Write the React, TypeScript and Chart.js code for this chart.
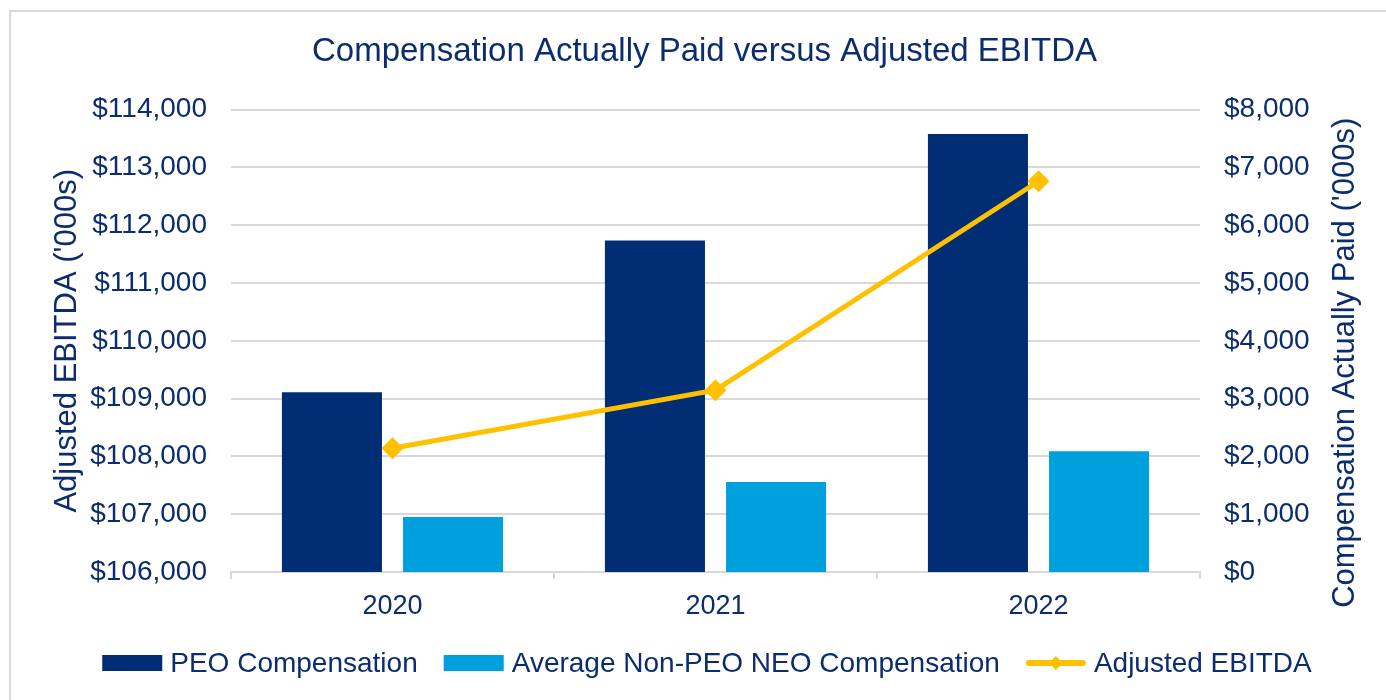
import React, { useEffect, useRef } from "react";
import { Chart, registerables } from "chart.js";

Chart.register(...registerables);

const categories = ["2020", "2021", "2022"];
const peoCompensation = [3110, 5735, 7580];
const nonPeoCompensation = [950, 1555, 2090];
const adjustedEbitda = [108140, 109145, 112760];

const leftTicks = { min: 106000, max: 114000, step: 1000 };
const rightTicks = { min: 0, max: 8000, step: 1000 };

const chartTitle = "Compensation Actually Paid versus Adjusted EBITDA";
const leftAxisTitle = "Adjusted EBITDA ('000s)";
const rightAxisTitle = "Compensation Actually Paid ('000s)";
const seriesNames = ["PEO Compensation", "Average Non-PEO NEO Compensation", "Adjusted EBITDA"];

const NAVY = "#002D74";
const LIGHT = "#00A0DF";
const YELLOW = "#FFC000";
const TEXT = "#0B2C6E";
const GRID = "#D9D9D9";
const FONT = "'Liberation Sans', Arial, sans-serif";

const fmt = (v: number | string) => "$" + Number(v).toLocaleString("en-US");

function drawIcon(ctx: CanvasRenderingContext2D, kind: number, x: number, y: number) {
  if (kind < 2) {
    ctx.fillStyle = kind === 0 ? NAVY : LIGHT;
    ctx.fillRect(x, y - 8, 60, 16);
  } else {
    ctx.strokeStyle = YELLOW;
    ctx.lineWidth = 6;
    ctx.lineCap = "round";
    ctx.beginPath();
    ctx.moveTo(x + 3, y);
    ctx.lineTo(x + 57, y);
    ctx.stroke();
    ctx.fillStyle = YELLOW;
    ctx.beginPath();
    ctx.moveTo(x + 30, y - 7);
    ctx.lineTo(x + 37, y);
    ctx.lineTo(x + 30, y + 7);
    ctx.lineTo(x + 23, y);
    ctx.closePath();
    ctx.fill();
  }
}

export default function App() {
  const ref = useRef<HTMLCanvasElement | null>(null);

  useEffect(() => {
    if (!ref.current) return;
    Chart.defaults.font.family = FONT;

    const extrasPlugin = {
      id: "extras",
      afterDraw(chart: any) {
        const { ctx, chartArea } = chart;
        // right axis title (reads bottom to top)
        ctx.save();
        ctx.translate(1345, (chartArea.top + chartArea.bottom) / 2 + 22);
        ctx.rotate(-Math.PI / 2);
        ctx.font = `31px ${FONT}`;
        ctx.fillStyle = TEXT;
        ctx.textAlign = "center";
        ctx.textBaseline = "middle";
        ctx.fillText(rightAxisTitle, 0, 0);
        ctx.restore();

        // legend
        ctx.save();
        ctx.font = `28px ${FONT}`;
        ctx.textBaseline = "middle";
        ctx.textAlign = "left";
        const boxW = 60;
        const gapText = 8;
        const gapItem = 26;
        const widths = seriesNames.map((s) => ctx.measureText(s).width);
        const total = widths.reduce((a, w) => a + boxW + gapText + w, 0) + gapItem * (seriesNames.length - 1);
        let x = 707 - total / 2;
        const y = 663;
        seriesNames.forEach((s, i) => {
          drawIcon(ctx, i, x, y);
          ctx.fillStyle = TEXT;
          ctx.fillText(s, x + boxW + gapText, y + 1);
          x += boxW + gapText + widths[i] + gapItem;
        });
        ctx.restore();
      },
    };

    const chart = new Chart(ref.current, {
      type: "bar",
      data: {
        labels: categories,
        datasets: [
          {
            type: "bar",
            label: seriesNames[0],
            data: peoCompensation,
            backgroundColor: NAVY,
            yAxisID: "y1",
            order: 2,
            categoryPercentage: 0.75,
            barPercentage: 0.826,
          },
          {
            type: "bar",
            label: seriesNames[1],
            data: nonPeoCompensation,
            backgroundColor: LIGHT,
            yAxisID: "y1",
            order: 2,
            categoryPercentage: 0.75,
            barPercentage: 0.826,
          },
          {
            type: "line",
            label: seriesNames[2],
            data: adjustedEbitda,
            borderColor: YELLOW,
            backgroundColor: YELLOW,
            borderWidth: 5,
            pointStyle: "rectRot",
            pointRadius: 11,
            pointBorderWidth: 0,
            pointBackgroundColor: YELLOW,
            yAxisID: "y",
            order: 0,
          } as any,
        ],
      },
      options: {
        responsive: false,
        animation: false,
        layout: { padding: { left: 23, right: 0, top: 0, bottom: 61 } },
        plugins: {
          title: {
            display: true,
            text: chartTitle,
            color: TEXT,
            font: { size: 33, weight: "normal", family: FONT },
            padding: { top: 32, bottom: 38 },
          },
          legend: { display: false },
          tooltip: { enabled: false },
        },
        scales: {
          x: {
            offset: true,
            grid: {
              display: true,
              drawOnChartArea: false,
              drawTicks: true,
              tickLength: 7,
              color: GRID,
              lineWidth: 2,
              offset: true,
            },
            border: { display: true, color: GRID, width: 2 },
            ticks: { color: TEXT, font: { size: 27 }, padding: 11 },
            afterFit(scale: any) {
              scale.height = 67;
            },
          },
          y: {
            position: "left",
            min: leftTicks.min,
            max: leftTicks.max,
            ticks: {
              stepSize: leftTicks.step,
              color: TEXT,
              font: { size: 28 },
              padding: 24,
              callback: (v: any) => fmt(v),
            },
            grid: { color: GRID, lineWidth: 2, drawTicks: false },
            border: { display: false },
            title: {
              display: true,
              text: leftAxisTitle,
              color: TEXT,
              font: { size: 31 },
              padding: { top: 26, bottom: 4 },
            },
            afterFit(scale: any) {
              scale.width = 208;
            },
          },
          y1: {
            position: "right",
            min: rightTicks.min,
            max: rightTicks.max,
            ticks: {
              stepSize: rightTicks.step,
              color: TEXT,
              font: { size: 28 },
              padding: 24,
              callback: (v: any) => fmt(v),
            },
            grid: { display: false, drawOnChartArea: false, drawTicks: false },
            border: { display: false },
            afterFit(scale: any) {
              scale.width = 186;
            },
          },
        },
      } as any,
      plugins: [extrasPlugin],
    });
    return () => chart.destroy();
  }, []);

  return (
    <div style={{ position: "absolute", left: 0, top: 0, width: 1386, height: 700, background: "#fff", overflow: "hidden" }}>
      <div
        style={{
          position: "absolute",
          left: 9,
          top: 10,
          width: 1400,
          height: 720,
          border: "2px solid #D9D9D9",
          boxSizing: "border-box",
        }}
      />
      <canvas ref={ref} width={1386} height={700} style={{ position: "absolute", left: 0, top: 0, width: 1386, height: 700 }} />
    </div>
  );
}
